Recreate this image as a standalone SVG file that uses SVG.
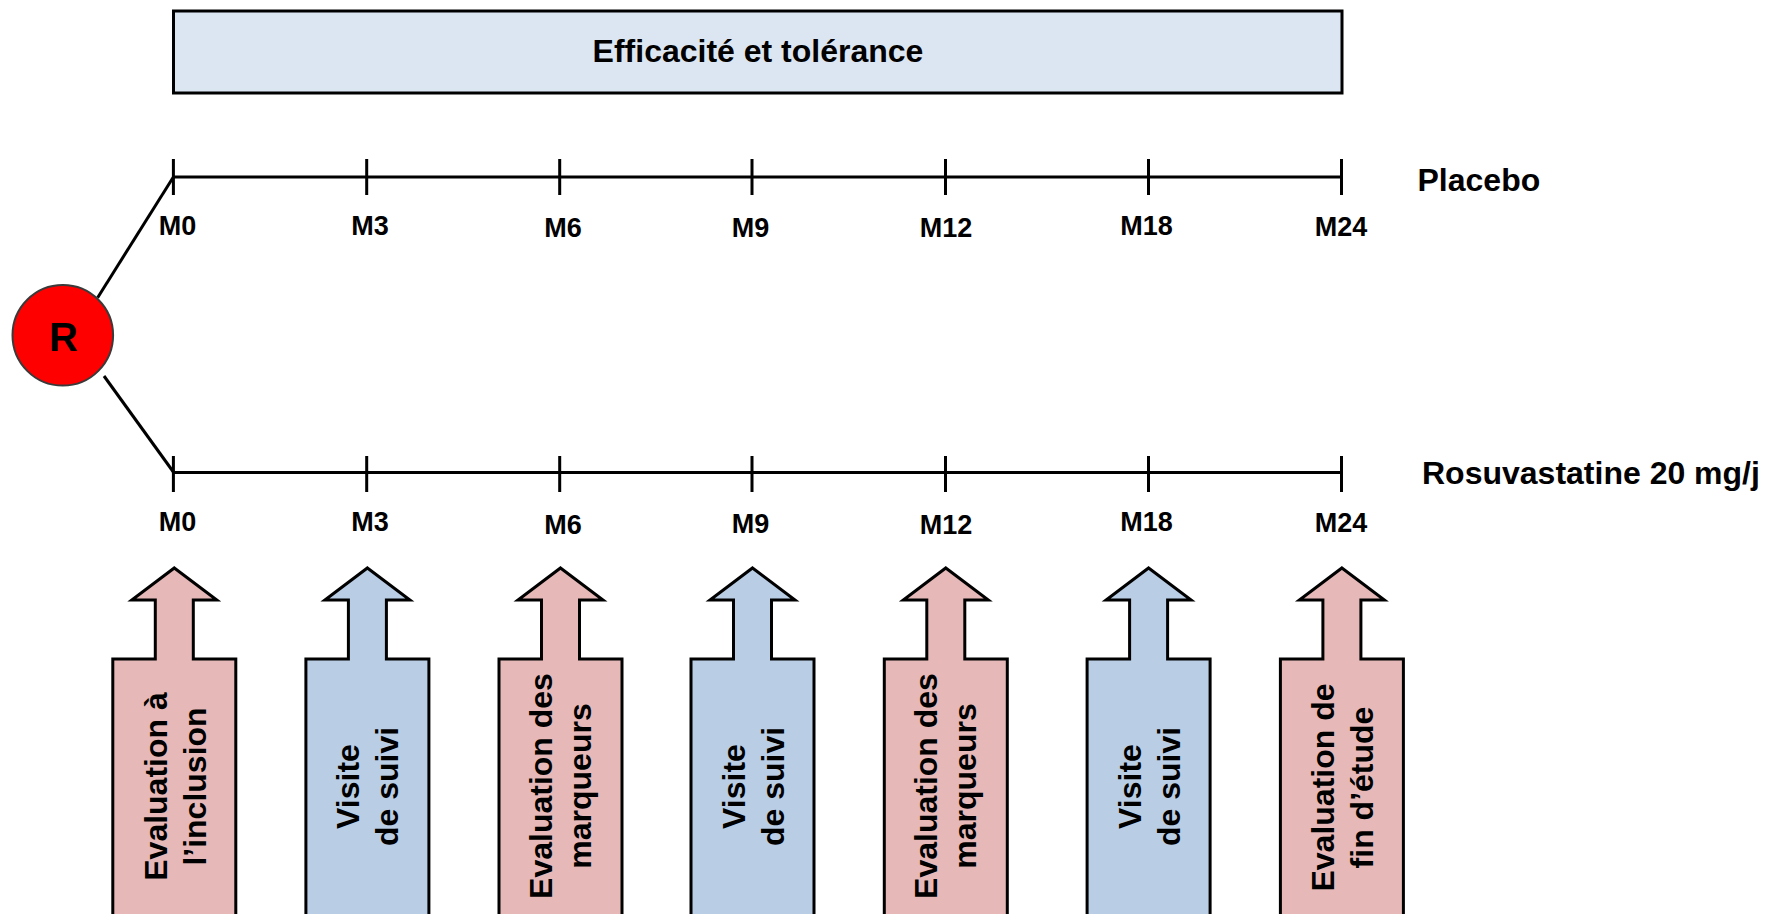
<svg xmlns="http://www.w3.org/2000/svg" width="1775" height="914" viewBox="0 0 1775 914">
<style>
.b{font-family:"Liberation Sans",Arial,sans-serif;font-weight:bold;fill:#000}
.m{font-size:27px;text-anchor:middle}
.big{font-size:32px}
.arr{stroke:#000;stroke-width:3;stroke-linejoin:miter}
.pink{fill:#e6b9b8}
.blue{fill:#b9cde5}
.tl{stroke:#000;stroke-width:3;fill:none}
.lbl{font-size:32px;text-anchor:middle}
</style>
<defs>
<path id="arrowShape" d="M0,568 L42.5,600 L19,600 L19,659 L61.5,659 L61.5,925 L-61.5,925 L-61.5,659 L-19,659 L-19,600 L-42.5,600 Z"/>
</defs>
<rect width="1775" height="914" fill="#fff"/>

<g id="header">
<rect x="173.5" y="11" width="1168.5" height="82" fill="#dce6f2" stroke="#000" stroke-width="3"/>
<text class="b big" x="758" y="62" text-anchor="middle">Efficacité et tolérance</text>
</g>

<g id="connectors">
<line class="tl" x1="173.4" y1="177" x2="97.6" y2="297.7"/>
<line class="tl" x1="104" y1="376" x2="173.4" y2="472"/>
</g>

<g id="randomisation">
<circle cx="62.8" cy="335.3" r="50.3" fill="#ff0000" stroke="#3a3a3a" stroke-width="2"/>
<text x="63.5" y="350.5" font-family="Liberation Sans, Arial, sans-serif" font-size="40" font-weight="bold" text-anchor="middle" fill="#000">R</text>
</g>

<g id="timeline-placebo">
<path class="tl" d="M173.4,177 H1341.5 M173.4,159 V195 M366.7,159 V195 M559.7,159 V195 M752,159 V195 M945.5,159 V195 M1148.5,159 V195 M1341.5,159 V195"/>
<text class="b m" x="177.5" y="235">M0</text>
<text class="b m" x="370" y="235">M3</text>
<text class="b m" x="563" y="237">M6</text>
<text class="b m" x="750.5" y="236.5">M9</text>
<text class="b m" x="946" y="237">M12</text>
<text class="b m" x="1146.5" y="235">M18</text>
<text class="b m" x="1341" y="236">M24</text>
<text class="b big" x="1417.5" y="191">Placebo</text>
</g>

<g id="timeline-rosuvastatine">
<path class="tl" d="M173.4,472.5 H1341.5 M173.4,456 V492 M366.7,456 V492 M559.7,456 V492 M752,456 V492 M945.5,456 V492 M1148.5,456 V492 M1341.5,456 V492"/>
<text class="b m" x="177.5" y="531">M0</text>
<text class="b m" x="370" y="531">M3</text>
<text class="b m" x="563" y="533.5">M6</text>
<text class="b m" x="750.5" y="533">M9</text>
<text class="b m" x="946" y="534">M12</text>
<text class="b m" x="1146.5" y="531">M18</text>
<text class="b m" x="1341" y="531.5">M24</text>
<text class="b big" x="1422" y="483.5">Rosuvastatine 20 mg/j</text>
</g>

<g id="visit-m0" transform="translate(174.3,0)">
<use href="#arrowShape" class="arr pink"/>
<text class="b lbl" transform="translate(0,786.5) rotate(-90)"><tspan x="0" y="-7.5">Evaluation à</tspan><tspan x="0" y="31.5">l’inclusion</tspan></text>
</g>

<g id="visit-m3" transform="translate(367.4,0)">
<use href="#arrowShape" class="arr blue"/>
<text class="b lbl" transform="translate(0,786.5) rotate(-90)"><tspan x="0" y="-8">Visite</tspan><tspan x="0" y="31">de suivi</tspan></text>
</g>

<g id="visit-m6" transform="translate(560.5,0)">
<use href="#arrowShape" class="arr pink"/>
<text class="b lbl" transform="translate(0,786) rotate(-90)"><tspan x="0" y="-8.5">Evaluation des</tspan><tspan x="0" y="30.5">marqueurs</tspan></text>
</g>

<g id="visit-m9" transform="translate(752.5,0)">
<use href="#arrowShape" class="arr blue"/>
<text class="b lbl" transform="translate(0,786.5) rotate(-90)"><tspan x="0" y="-8">Visite</tspan><tspan x="0" y="31">de suivi</tspan></text>
</g>

<g id="visit-m12" transform="translate(945.8,0)">
<use href="#arrowShape" class="arr pink"/>
<text class="b lbl" transform="translate(0,786) rotate(-90)"><tspan x="0" y="-8.5">Evaluation des</tspan><tspan x="0" y="30.5">marqueurs</tspan></text>
</g>

<g id="visit-m18" transform="translate(1148.6,0)">
<use href="#arrowShape" class="arr blue"/>
<text class="b lbl" transform="translate(0,786.5) rotate(-90)"><tspan x="0" y="-8">Visite</tspan><tspan x="0" y="31">de suivi</tspan></text>
</g>

<g id="visit-m24" transform="translate(1341.9,0)">
<use href="#arrowShape" class="arr pink"/>
<text class="b lbl" transform="translate(0,787.5) rotate(-90)"><tspan x="0" y="-8">Evaluation de</tspan><tspan x="0" y="31">fin d’étude</tspan></text>
</g>
</svg>
